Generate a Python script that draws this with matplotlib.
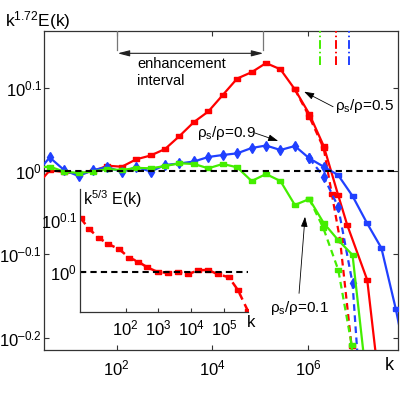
import numpy as np
import matplotlib
matplotlib.use('Agg')
import matplotlib.pyplot as plt
from matplotlib.ticker import NullLocator

plt.rcParams['font.family'] = ['Liberation Sans', 'DejaVu Sans']
plt.rcParams['mathtext.fontset'] = 'custom'
plt.rcParams['mathtext.rm'] = 'Liberation Sans'
plt.rcParams['mathtext.it'] = 'Liberation Sans:italic'
plt.rcParams['mathtext.default'] = 'regular'

# ---------------- data (k, and log10 of compensated spectrum) ----------------
k_pow2 = [2, 4, 8, 16, 32, 64, 128, 256, 512, 1024, 2048, 4096, 8192, 16384,
          32768, 65536, 131072, 262144, 524288, 1048576, 2097152, 4194304,
          8388608, 16777216, 33554432, 67108864, 134217728]

# rho_s/rho = 0.5 (red)
red_solid_k = k_pow2[:22] + [6.5e6, 1.7e7, 3.3e7]
red_solid_logE = [-0.019, 0.001, -0.001, -0.003, 0.000, 0.0066, 0.0054, 0.0143,
                  0.0189, 0.0267, 0.0423, 0.0591, 0.0718, 0.0916, 0.1114, 0.1190,
                  0.1300, 0.1225, 0.0984, 0.0688, 0.0303, -0.0286, -0.0647,
                  -0.1308, -0.275]
red_dash_k = [524288, 1048576, 2097152, 3.1e6, 4.6e6, 8.0e6, 9.9e6]
red_dash_logE = [0.0984, 0.0655, 0.0275, -0.0274, -0.0827, -0.2101, -0.275]

# rho_s/rho = 0.9 (blue)
blue_solid_k = k_pow2[:27]
blue_solid_logE = [-0.0038, 0.0165, 0.0014, -0.0058, 0.0014, 0.005, -0.001, 0.005,
                   -0.0004, 0.0075, 0.0093, 0.0117, 0.0171, 0.0195, 0.0215, 0.0279,
                   0.0309, 0.0255, 0.0303, 0.0155, 0.0054, -0.0046, -0.0298,
                   -0.0623, -0.0923, -0.1656, -0.251]
blue_dash_k = [1048576, 2097152, 4194304, 8388608, 1.32e7]
blue_dash_logE = [0.0155, -0.0066, -0.0427, -0.1347, -0.299]

# rho_s/rho = 0.1 (green)
green_solid_k = k_pow2[:24]
green_solid_logE = [0.004, 0.0056, -0.0006, -0.002, -0.0004, 0.0026, 0.0014, 0.004,
                    0.0035, 0.0062, 0.0095, 0.0087, 0.0035, 0.0087, 0.0047, -0.0118,
                    -0.0034, -0.0118, -0.0406, -0.0334, -0.0623, -0.0827, -0.1007,
                    -0.256]
green_dash_k = [1048576, 2.06e6, 4.23e6, 8.05e6, 1.04e7]
green_dash_logE = [-0.0334, -0.0683, -0.1188, -0.209, -0.299]

# cutoff wavenumbers (dash-dot marks at top)
cutoff_k = [1.75e6, 3.73e6, 7.18e6]
cutoff_colors = ['#44ee00', '#ff0000', '#2040ff']

# enhancement interval
enh_k = [100, 1.15e5]

# inset: k^{5/3} E(k)
inset_k = [4.3, 7.8, 15.8, 29.6, 63.8, 128.5, 241.5, 454, 940, 1972, 3972, 8000,
           16106, 32434, 65313, 1.41e5, 2.64e5, 5.32e5]
inset_logE = [0.1038, 0.0827, 0.0654, 0.0544, 0.0442, 0.0281, 0.0204, 0.0096,
              0.0006, -0.0013, 0.0006, -0.0038, 0.0038, 0.0044, -0.0038, -0.0096,
              -0.034, -0.074]

main_xticks = [1e2, 1e4, 1e6]
main_xticklabels = ['$10^2$', '$10^4$', '$10^6$']
main_yexp = [-0.2, -0.1, 0.0, 0.1]
main_yticklabels = ['$10^{–0.2}$', '$10^{–0.1}$', '$10^0$', '$10^{0.1}$']
inset_xticks = [1e2, 1e3, 1e4, 1e5]
inset_xticklabels = ['$10^2$', '$10^3$', '$10^4$', '$10^5$']
inset_yexp = [0.0, 0.1]
inset_yticklabels = ['$10^0$', '$10^{0.1}$']

# ---------------- styling ----------------
RED = '#ff0000'
BLUE = '#2040ff'
GREEN = '#44ee00'
rect = [(-1, -0.55), (1, -0.55), (1, 0.55), (-1, 0.55), (-1, -0.55)]
W, H = 415, 394

fig = plt.figure(figsize=(W / 100, H / 100), dpi=100)
ax = fig.add_axes([44.3 / W, 1 - 350 / H, 354 / W, 319.3 / H])
ax.set_xscale('log')
ax.set_yscale('log')

def P(v):
    return 10 ** np.asarray(v, dtype=float)

lw = 1.6
# red
ax.plot(red_dash_k, P(red_dash_logE), color=RED, lw=lw, ls=(0, (3, 2)),
        marker=rect, ms=4.5, zorder=3)
ax.plot(red_solid_k, P(red_solid_logE), color=RED, lw=lw, marker=rect, ms=4.5, zorder=3)
# blue
ax.plot(blue_dash_k, P(blue_dash_logE), color=BLUE, lw=lw, ls=(0, (3, 2)),
        marker='d', ms=5.5, zorder=4)
ax.plot(blue_solid_k, P(blue_solid_logE), color=BLUE, lw=lw, zorder=4)
ax.plot(blue_solid_k[:21], P(blue_solid_logE[:21]), ls='none', color=BLUE,
        marker='d', ms=5.5, zorder=4)
ax.plot(blue_solid_k[21:], P(blue_solid_logE[21:]), ls='none', color=BLUE,
        marker=rect, ms=5, zorder=4)
# green
ax.plot(green_dash_k, P(green_dash_logE), color=GREEN, lw=lw, ls=(0, (3, 2)),
        marker=rect, ms=4.5, zorder=4)
ax.plot(green_solid_k, P(green_solid_logE), color=GREEN, lw=lw, marker=rect,
        ms=4.5, zorder=4)

ax.axhline(1.0, color='k', lw=1.5, ls=(0, (3, 2)), zorder=6)

ytop = 10 ** 0.1689
ybot = 10 ** -0.2149
for kc, c in zip(cutoff_k, cutoff_colors):
    ax.plot([kc, kc], [10 ** 0.1276, ytop * 1.01], color=c, lw=1.4,
            ls=(0, (4.5, 1.5, 0.8, 1.5)), zorder=5, clip_on=True)

for ke in enh_k:
    ax.plot([ke, ke], [10 ** 0.1456, ytop * 1.01], color='#777777', lw=0.9, zorder=5)
ax.annotate('', xy=(enh_k[1], 10 ** 0.1417), xytext=(enh_k[0] * 1.05, 10 ** 0.1417),
            arrowprops=dict(arrowstyle='<|-|>,head_length=0.7,head_width=0.18',
                            lw=0.8, color='#222222', shrinkA=0, shrinkB=0))
ax.text(267, 10 ** 0.124, 'enhancement', fontsize=10.5, ha='left', va='baseline')
ax.text(267, 10 ** 0.1036, 'interval', fontsize=10.5, ha='left', va='baseline')

lab_fs = 11
ax.text(10 ** 6.56, 10 ** 0.0736, r'$ρ_s/ρ$=0.5', fontsize=lab_fs, ha='left', va='baseline')
ax.annotate('', xy=(10 ** 5.912, 10 ** 0.0956), xytext=(10 ** 6.518, 10 ** 0.0775),
            arrowprops=dict(arrowstyle='-|>,head_length=0.6,head_width=0.2', lw=0.6,
                            color='k', shrinkA=0, shrinkB=0))
ax.text(10 ** 3.676, 10 ** 0.0411, r'$ρ_s/ρ$=0.9', fontsize=lab_fs, ha='left', va='baseline')
ax.annotate('', xy=(10 ** 5.372, 10 ** 0.0363), xytext=(10 ** 4.887, 10 ** 0.0459),
            arrowprops=dict(arrowstyle='-|>,head_length=0.6,head_width=0.2', lw=0.6,
                            color='k', shrinkA=0, shrinkB=0))
ax.text(10 ** 5.2, 10 ** -0.1692, r'$ρ_s/ρ$=0.1', fontsize=lab_fs, ha='left', va='baseline')
ax.annotate('', xy=(10 ** 5.932, 10 ** -0.0547), xytext=(10 ** 5.807, 10 ** -0.1468),
            arrowprops=dict(arrowstyle='-|>,head_length=0.6,head_width=0.2', lw=0.6,
                            color='k', shrinkA=0, shrinkB=0))

ax.set_xlim(10 ** 0.489, 10 ** 7.879)
ax.set_ylim(ybot, ytop)
ax.set_xticks(main_xticks)
ax.set_xticklabels(main_xticklabels)
ax.set_yticks(P(main_yexp))
ax.set_yticklabels(main_yticklabels)
ax.xaxis.set_minor_locator(NullLocator())
ax.yaxis.set_minor_locator(NullLocator())
ax.tick_params(direction='in', top=True, right=True, length=3.5, width=0.8,
               labelsize=12, colors='#333333', labelcolor='k')
ax.tick_params(axis='x', pad=6)
ax.tick_params(axis='y', pad=1.5)
for s in ax.spines.values():
    s.set_color('#333333')
    s.set_linewidth(0.9)

fig.text(5 / W, 1 - 26.7 / H, '$k^{1.72}$E(k)', fontsize=12.5, ha='left', va='baseline')
fig.text(385 / W, 1 - 370 / H, 'k', fontsize=13, ha='left', va='baseline')

# ---------------- inset ----------------
axin = fig.add_axes([80 / W, 1 - 311.7 / H, 168.3 / W, 122.7 / H])
axin.set_facecolor('none')
axin.set_xscale('log')
axin.set_yscale('log')
axin.plot(inset_k, P(inset_logE), color=RED, lw=1.8, ls=(0, (3, 2)),
          marker=rect, ms=4.5)
axin.axhline(1.0, color='k', lw=1.5, ls=(0, (3, 2)))
axin.set_xlim(10 ** 0.61, 10 ** 5.74)
axin.set_ylim(10 ** -0.0758, 10 ** 0.160)
axin.set_xticks(inset_xticks)
axin.set_xticklabels(inset_xticklabels)
axin.set_yticks(P(inset_yexp))
axin.set_yticklabels(inset_yticklabels)
axin.xaxis.set_minor_locator(NullLocator())
axin.yaxis.set_minor_locator(NullLocator())
axin.tick_params(direction='in', length=3, width=0.8, labelsize=12,
                 colors='#333333', labelcolor='k')
axin.tick_params(axis='x', pad=5)
axin.tick_params(axis='y', pad=2)
axin.spines['top'].set_visible(False)
axin.spines['right'].set_visible(False)
for s in ['left', 'bottom']:
    axin.spines[s].set_color('#333333')
    axin.spines[s].set_linewidth(0.9)
fig.text(83 / W, 1 - 205 / H, '$k^{5/3}$ E(k)', fontsize=11.5, ha='left', va='baseline')
fig.text(246.7 / W, 1 - 326.7 / H, 'k', fontsize=12, ha='left', va='baseline')

fig.savefig('out.png', dpi=100)
